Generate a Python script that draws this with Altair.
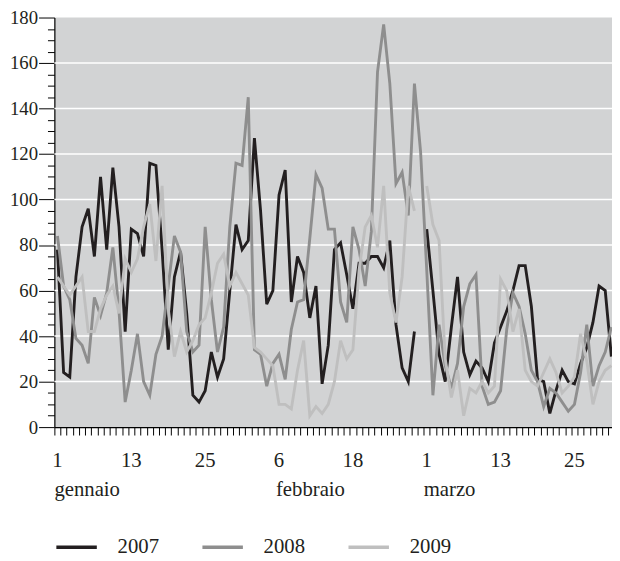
import altair as alt
import pandas as pd

# Day index 0..90 = 1 gennaio .. 31 marzo (calendar of a leap year; 29 Feb missing in 2007/2009)
v2007 = [78, 24, 22, 66, 88, 96, 75, 110, 78, 114,
         88, 42, 87, 85, 75, 116, 115, 78, 34, 66,
         77, 50, 14, 11, 16, 33, 22, 30, 60, 89,
         78, 82, 127, 95, 54, 60, 102, 113, 55, 75,
         68, 48, 62, 19, 36, 78, 81, 67, 52, 72,
         72, 75, 75, 70, 82, 45, 26, 20, 42, None,
         87, 60, 32, 20, 44, 66, 33, 23, 29, 26,
         20, 37, 44, 51, 60, 71, 71, 53, 21, 20,
         6, 16, 25, 20, 19, 28, 35, 46, 62, 60, 31]
v2008 = [84, 62, 56, 39, 36, 28, 57, 49, 59, 79,
         51, 11, 25, 41, 20, 14, 32, 40, 62, 84,
         77, 42, 33, 36, 88, 56, 33, 44, 88, 116,
         115, 145, 34, 32, 18, 28, 32, 21, 43, 55,
         56, 83, 111, 105, 87, 87, 55, 46, 88, 78,
         62, 86, 156, 177, 151, 107, 112, 93, 151, 121,
         69, 14, 45, 27, 17, 28, 53, 63, 67, 18,
         10, 11, 16, 43, 59, 53, 41, 25, 20, 9,
         17, 15, 11, 7, 10, 24, 45, 18, 27, 33, 44]
v2009 = [66, 62, 58, 62, 66, 42, 42, 52, 58, 62,
         50, 74, 68, 74, 88, 98, 73, 106, 52, 31,
         42, 33, 38, 45, 48, 59, 72, 76, 62, 68,
         63, 58, 35, 33, 30, 27, 10, 10, 8, 25,
         38, 5, 9, 6, 10, 20, 38, 30, 34, 69,
         88, 93, 79, 106, 59, 46, 66, 106, 95, None,
         106, 89, 82, 30, 13, 25, 5, 17, 15, 20,
         15, 18, 65, 60, 42, 52, 25, 20, 18, 24,
         30, 24, 15, 18, 22, 41, 29, 10, 20, 25, 27]

years = ["2007", "2008", "2009"]
year_colors = ["#231f20", "#8e8e8e", "#bfbfbf"]
grid_values = [20, 40, 60, 80, 100, 120, 140, 160]
y_ticks = list(range(0, 181, 5))
tick_days = [0, 12, 24, 36, 48, 60, 72, 84]
tick_labels = ["1", "13", "25", "6", "18", "1", "13", "25"]
month_days = [0, 36, 60]
month_names = ["gennaio", "febbraio", "marzo"]

FONT = "Liberation Serif"
TXT = "#231f20"
FS = 21

rows = []
for yr, vals in zip(years, [v2007, v2008, v2009]):
    for d, v in enumerate(vals):
        rows.append({"day": d, "year": yr, "value": v})
df = pd.DataFrame(rows)

# ticks sit on the day boundaries
boundaries = [d - 0.5 for d in range(91)]

xscale = alt.Scale(domain=[-0.5, 90.1], nice=False, zero=False)
yscale = alt.Scale(domain=[0, 180], nice=False)

xaxis = alt.Axis(values=boundaries, labels=False, tickSize=8, grid=False)
yaxis = alt.Axis(values=y_ticks,
                 labelExpr="datum.value % 20 == 0 ? datum.label : ''",
                 tickSize={"condition": {"test": "datum.value % 20 == 0", "value": 16},
                           "value": 7},
                 labelPadding=1, grid=False, labelFontSize=19,
                 labelOverlap=False, labelFlush=False)

grid = alt.Chart(pd.DataFrame({"g": grid_values})).mark_rule(
    color="white", strokeWidth=1.5
).encode(y=alt.Y("g:Q", scale=yscale, axis=yaxis, title=None))

lines = alt.Chart(df).mark_line(strokeWidth=2.9, strokeJoin="miter").encode(
    x=alt.X("day:Q", scale=xscale, title=None, axis=xaxis),
    y=alt.Y("value:Q", scale=yscale, title=None, axis=yaxis),
    color=alt.Color("year:N",
                    scale=alt.Scale(domain=years, range=year_colors),
                    legend=alt.Legend(title=None, orient="none",
                                      direction="horizontal",
                                      legendX=0, legendY=514,
                                      symbolType="stroke", symbolSize=1681,
                                      symbolStrokeWidth=3.5,
                                      labelOffset=19, columnPadding=37,
                                      labelFont=FONT, labelFontSize=FS,
                                      labelColor=TXT)),
)

day_labels = alt.Chart(pd.DataFrame({"day": tick_days, "lab": tick_labels})).mark_text(
    align="center", baseline="alphabetic", font=FONT, fontSize=FS, color=TXT
).encode(
    x=alt.X("day:Q", scale=xscale, axis=xaxis, title=None),
    y=alt.value(455),
    text="lab:N",
)

months = alt.Chart(pd.DataFrame({"day": month_days, "name": month_names})).transform_calculate(
    start="datum.day - 0.5"
).mark_text(
    align="left", baseline="alphabetic", font=FONT, fontSize=FS, color=TXT
).encode(
    x=alt.X("start:Q", scale=xscale, axis=xaxis, title=None),
    y=alt.value(485),
    text="name:N",
)

chart = alt.layer(grid, lines, day_labels, months).properties(
    width=565, height=415, autosize="none",
    padding={"left": 47, "top": 6, "right": 0, "bottom": 132},
).configure_view(fill="#d2d3d4", stroke=None).configure_axis(
    domainColor="black", tickColor="black", domainWidth=1.2, tickWidth=1,
    labelFont=FONT, labelFontSize=FS, labelColor=TXT,
)

chart.save("out.html", embed_options={"renderer": "svg", "actions": False})
